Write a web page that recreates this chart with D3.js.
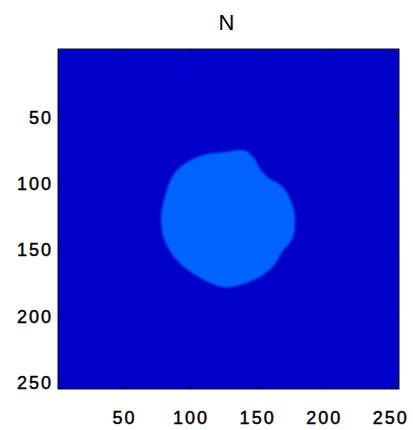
<!DOCTYPE html>
<html>
<head>
<meta charset="utf-8">
<script src="https://cdn.jsdelivr.net/npm/d3@7"></script>
<style>
  body { margin: 0; background: #fff; }
  text { font-family: "Liberation Sans", Arial, sans-serif; }
</style>
</head>
<body>
<script>
// image size (pixels of the matrix) and tick values
var imgSize = 256;
var xTicks = [50, 100, 150, 200, 250];
var yTicks = [50, 100, 150, 200, 250];
var titleText = "N";

// matrix values (jet colormap, 0..1): background and the blob
var backgroundValue = 0.071;
var blobValue = 0.222;

// outline of the blob (column, row)
var blobX = [111, 126, 141, 148, 151, 158, 169, 175, 178, 178, 175, 169, 163, 154, 141, 126, 113, 101, 91, 83, 79, 78, 79, 83, 88, 97];
var blobY = [80, 78, 77, 83, 89, 97, 104, 114, 124, 138, 146, 153, 163, 171, 177, 180, 176, 169, 161, 150, 140, 125, 119, 104, 94, 86];

var svgWidth = 413, svgHeight = 430;
var plot = { left: 58, right: 399, top: 49, bottom: 389 };

var svg = d3.select("body").append("svg")
  .attr("width", svgWidth)
  .attr("height", svgHeight);

var x = d3.scaleLinear().domain([0.5, imgSize + 0.5]).range([plot.left, plot.right]);
var y = d3.scaleLinear().domain([0.5, imgSize + 0.5]).range([plot.top, plot.bottom]);

// matlab jet colormap
var jet = d3.scaleLinear()
  .domain([0, 0.125, 0.375, 0.625, 0.875, 1])
  .range(["#000080", "#0000ff", "#00ffff", "#ffff00", "#ff0000", "#800000"]);

var defs = svg.append("defs");
defs.append("clipPath").attr("id", "clip")
  .append("rect")
  .attr("x", plot.left).attr("y", plot.top)
  .attr("width", plot.right - plot.left).attr("height", plot.bottom - plot.top);
defs.append("filter").attr("id", "soft")
  .append("feGaussianBlur").attr("stdDeviation", 1.3);

var img = svg.append("g").attr("clip-path", "url(#clip)");

img.append("rect")
  .attr("x", x(0.5)).attr("y", y(0.5))
  .attr("width", x(imgSize + 0.5) - x(0.5))
  .attr("height", y(imgSize + 0.5) - y(0.5))
  .attr("fill", jet(backgroundValue));

var blobPts = blobX.map(function(d, i) { return [x(d), y(blobY[i])]; });
img.append("path")
  .attr("d", d3.line().curve(d3.curveCatmullRomClosed)(blobPts))
  .attr("fill", jet(blobValue))
  .attr("filter", "url(#soft)");

// axes, ticks inward like matlab
var tickLen = 4;
var fs = 18;

var xAxis = svg.append("g")
  .attr("transform", "translate(0," + plot.bottom + ")")
  .call(d3.axisBottom(x).tickValues(xTicks).tickSize(-tickLen).tickPadding(22));
var yAxis = svg.append("g")
  .attr("transform", "translate(" + plot.left + ",0)")
  .call(d3.axisLeft(y).tickValues(yTicks).tickSize(-tickLen).tickPadding(5));
var xTop = svg.append("g")
  .attr("transform", "translate(0," + plot.top + ")")
  .call(d3.axisTop(x).tickValues(xTicks).tickSize(-tickLen).tickFormat(""));
var yRight = svg.append("g")
  .attr("transform", "translate(" + plot.right + ",0)")
  .call(d3.axisRight(y).tickValues(yTicks).tickSize(-tickLen).tickFormat(""));

[xAxis, yAxis, xTop, yRight].forEach(function(a) {
  a.select(".domain").remove();
  a.selectAll("line").attr("stroke", "#111");
  a.selectAll("text")
    .attr("fill", "#000")
    .attr("stroke", "#000")
    .attr("stroke-width", 0.45)
    .style("font-size", fs + "px")
    .style("letter-spacing", "2px");
});
yAxis.selectAll("text").attr("dy", "0.46em");

// frame
svg.append("rect")
  .attr("x", plot.left).attr("y", plot.top)
  .attr("width", plot.right - plot.left).attr("height", plot.bottom - plot.top)
  .attr("fill", "none")
  .attr("stroke", "#111")
  .attr("stroke-width", 1);

svg.append("text")
  .attr("x", (plot.left + plot.right) / 2 - 2)
  .attr("y", 30)
  .attr("text-anchor", "middle")
  .style("font-size", "22px")
  .text(titleText);
</script>
</body>
</html>
